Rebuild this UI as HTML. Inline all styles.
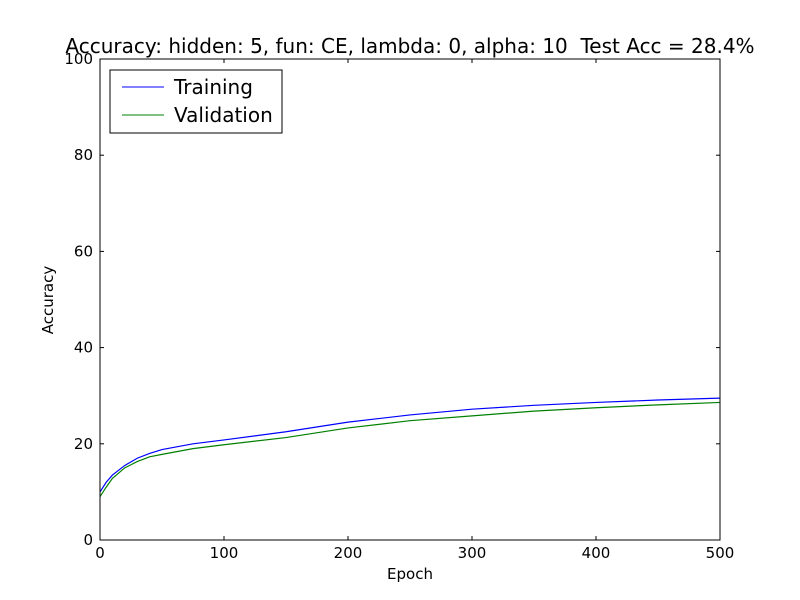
<!DOCTYPE html>
<html><head><meta charset="utf-8"><style>
body{margin:0;background:#fff;}
svg{display:block;font-family:"DejaVu Sans","Liberation Sans",sans-serif;}
text{white-space:pre;}
</style></head><body>
<svg id="chart" width="800" height="600">
<rect width="800" height="600" fill="#fff"/>
<text x="410" y="53" font-size="20" text-anchor="middle">Accuracy: hidden: 5, fun: CE, lambda: 0, alpha: 10  Test Acc = 28.4%</text>
<g id="ticks"></g>
<g id="lines"></g>
<rect x="100" y="59" width="620" height="481" fill="none" stroke="#000" stroke-width="1"/>
<text x="410" y="579" font-size="15" text-anchor="middle">Epoch</text>
<text x="53" y="300" font-size="15" text-anchor="middle" transform="rotate(-90 53 300)">Accuracy</text>
<g>
<rect x="110" y="70" width="172" height="63" fill="#fff" stroke="#000"/>
<line x1="122" y1="87" x2="164" y2="87" stroke="#0000ff"/>
<text x="174" y="94" font-size="20">Training</text>
<line x1="122" y1="115" x2="164" y2="115" stroke="#008000"/>
<text x="174" y="122" font-size="20">Validation</text>
</g>
</svg>
<script>
const epochs=[0,5,10,20,30,40,50,75,100,150,200,250,300,350,400,450,500];
const training=[10,12,13.5,15.5,17,18,18.8,20,20.8,22.5,24.5,26,27.2,28,28.6,29.1,29.5];
const validation=[9,11,12.8,15,16.3,17.3,17.8,19,19.8,21.3,23.3,24.8,25.8,26.8,27.5,28.1,28.6];
const xTicks=[0,100,200,300,400,500];
const yTicks=[0,20,40,60,80,100];
const xs=v=>100+v/500*620;
const ys=v=>540-v/100*481;
const NS="http://www.w3.org/2000/svg";
const tg=document.getElementById('ticks');
xTicks.forEach(t=>{
  const x=xs(t);
  for(const [a,b] of [[540,536],[59,63]]){
    const l=document.createElementNS(NS,'line');
    l.setAttribute('x1',x);l.setAttribute('x2',x);l.setAttribute('y1',a);l.setAttribute('y2',b);l.setAttribute('stroke','#000');
    
    
    tg.appendChild(l);
  }
  const tx=document.createElementNS(NS,'text');
  tx.setAttribute('x',x);tx.setAttribute('y',558);tx.setAttribute('font-size','15');tx.setAttribute('text-anchor','middle');
  tx.textContent=t;
  
  
  tg.appendChild(tx);
});
yTicks.forEach(t=>{
  const y=ys(t);
  for(const [a,b] of [[100,104],[720,716]]){
    const l=document.createElementNS(NS,'line');
    l.setAttribute('x1',a);l.setAttribute('x2',b);l.setAttribute('y1',y);l.setAttribute('y2',y);l.setAttribute('stroke','#000');
    
    
    tg.appendChild(l);
  }
  const tx=document.createElementNS(NS,'text');
  tx.setAttribute('x',93);tx.setAttribute('y',y+5);tx.setAttribute('font-size','15');tx.setAttribute('text-anchor','end');
  tx.textContent=t;
  
  
  tg.appendChild(tx);
});
const lg=document.getElementById('lines');
[[training,'#0000ff','training-line'],[validation,'#008000','validation-line']].forEach(([vals,c,n])=>{
  const p=document.createElementNS(NS,'polyline');
  p.setAttribute('points',epochs.map((e,i)=>xs(e)+','+ys(vals[i])).join(' '));
  p.setAttribute('fill','none');p.setAttribute('stroke',c);p.setAttribute('stroke-width','1.2');
  
  
  lg.appendChild(p);
});
</script>
</body></html>
